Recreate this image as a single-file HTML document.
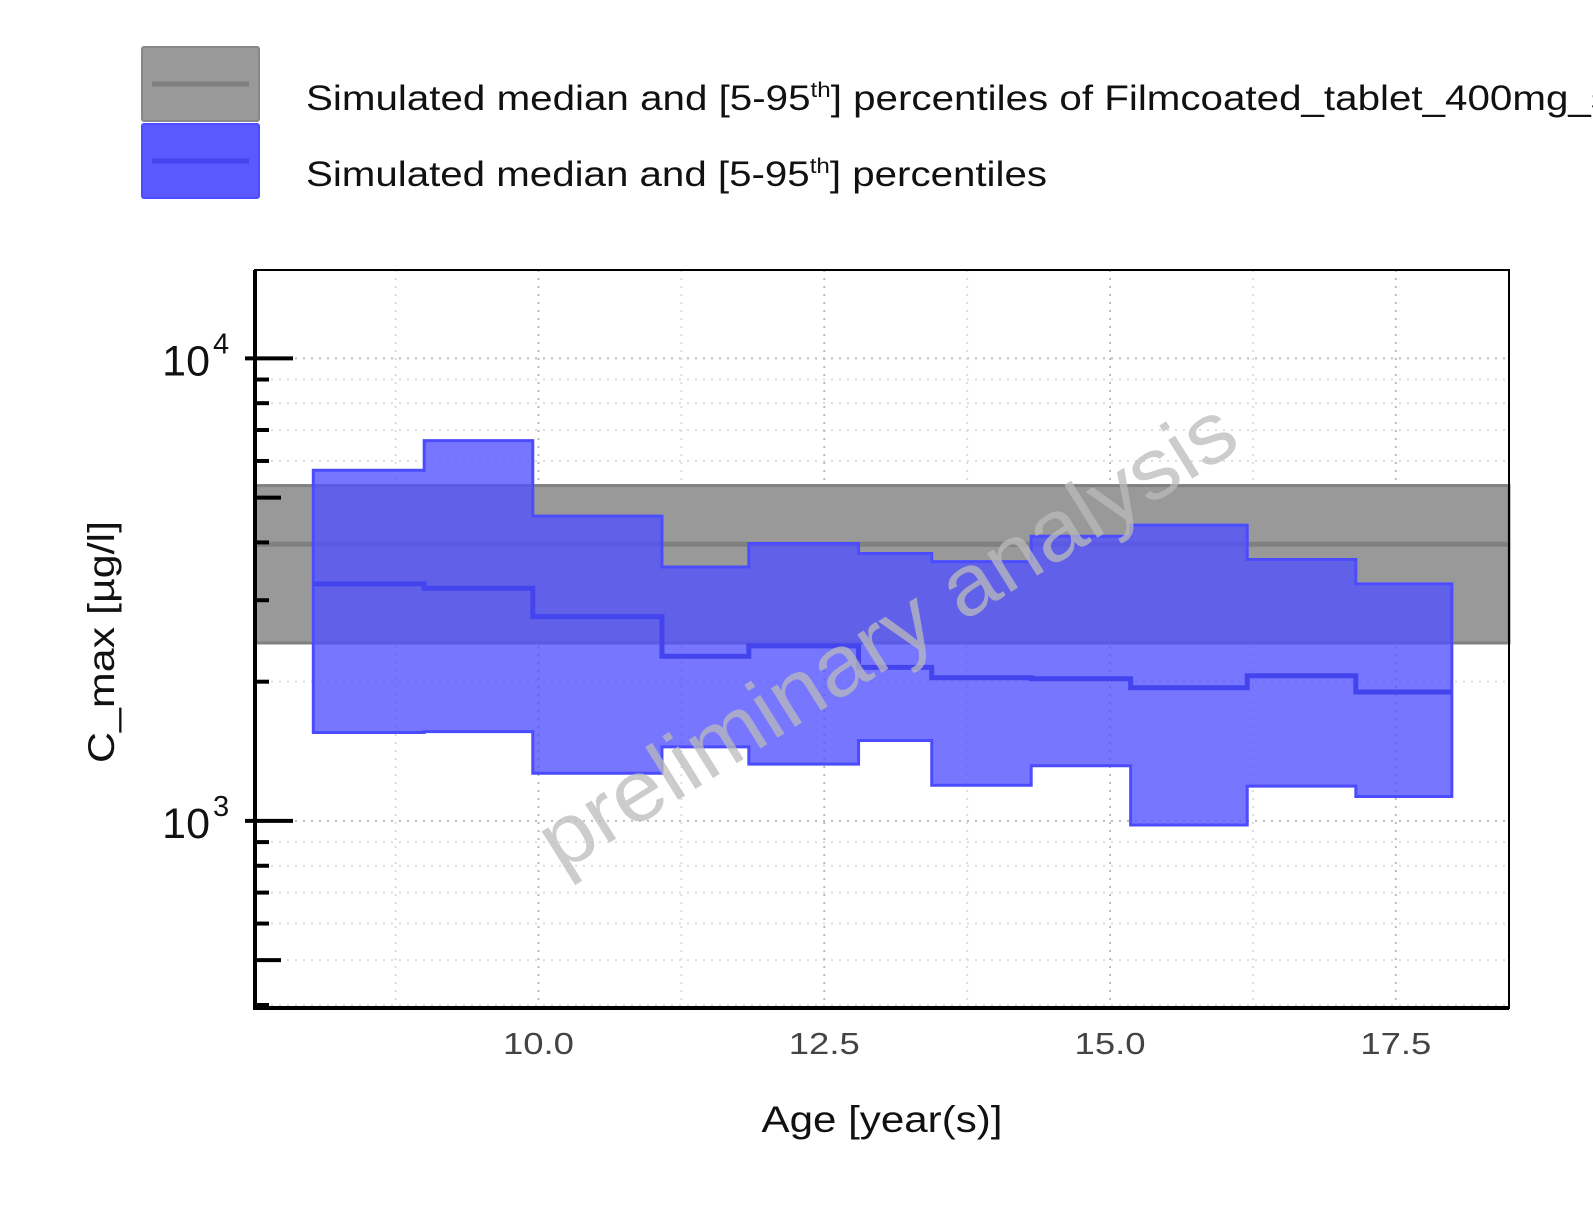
<!DOCTYPE html>
<html><head><meta charset="utf-8"><style>
html,body{margin:0;padding:0;background:#fff;}
svg{display:block;font-family:"Liberation Sans",sans-serif;}
</style></head><body>
<svg id="chart" width="1593" height="1226" viewBox="0 0 1593 1226" xmlns="http://www.w3.org/2000/svg">
<g>
  <g>
    <rect x="142" y="47" width="117" height="74" rx="2" fill="#999" stroke="#888" stroke-width="2"/>
    <line x1="152" y1="84" x2="249" y2="84" stroke="#808080" stroke-width="5"/>
    <text x="306" y="110" font-size="35" fill="#111" textLength="1305" lengthAdjust="spacingAndGlyphs">Simulated median and [5-95<tspan font-size="21" dy="-13">th</tspan><tspan dy="13">] percentiles of Filmcoated_tablet_400mg_s</tspan></text>
  </g>
  <g>
    <rect x="142" y="124" width="117" height="74" rx="2" fill="#5050ff" fill-opacity="0.95" stroke="#4c4cff" stroke-width="2"/>
    <line x1="152" y1="161" x2="249" y2="161" stroke="#4444ee" stroke-width="5"/>
    <text x="306" y="186" font-size="35" fill="#111" textLength="741" lengthAdjust="spacingAndGlyphs">Simulated median and [5-95<tspan font-size="21" dy="-13">th</tspan><tspan dy="13">] percentiles</tspan></text>
  </g>
</g>
<g id="plot"></g>
<text x="0" y="0" font-size="86" fill="#bbb" fill-opacity="0.75" text-anchor="middle" textLength="805" lengthAdjust="spacingAndGlyphs" transform="translate(902,660) rotate(-32)">preliminary analysis</text>
<text x="882" y="1132" font-size="37" text-anchor="middle" fill="#111" textLength="241" lengthAdjust="spacingAndGlyphs">Age [year(s)]</text>
<text x="0" y="0" font-size="37" text-anchor="middle" fill="#111" textLength="242" lengthAdjust="spacingAndGlyphs" transform="translate(114,642) rotate(-90)">C_max [µg/l]</text>
</svg>
<script>
const binEdges=[8.03,9.0,9.95,11.08,11.84,12.8,13.44,14.31,15.18,16.2,17.15,17.99];
const upper=[5730,6640,4560,3540,3980,3785,3635,4125,4360,3675,3255];
const median=[3255,3185,2765,2270,2390,2147,2040,2030,1940,2060,1900];
const lower=[1553,1560,1268,1446,1327,1492,1194,1316,980,1189,1129];
const refBand=[2425,3963,5309];
const xTicks=[10.0,12.5,15.0,17.5];
const xTickLabels=["10.0","12.5","15.0","17.5"];
const yMajor=[1000,10000];
const yMajorExp=["3","4"];

const L=255,R=1509,T=270,B=1008;
const xMin=7.52,xMax=18.49,yMinLog=2.5956,yMaxLog=4.191;
const X=v=>L+(v-xMin)/(xMax-xMin)*(R-L);
const Y=v=>B-(Math.log10(v)-yMinLog)/(yMaxLog-yMinLog)*(B-T);
const NS="http://www.w3.org/2000/svg";
const plot=document.getElementById('plot');
function mk(tag,attrs,parent){const e=document.createElementNS(NS,tag);for(const k in attrs)e.setAttribute(k,attrs[k]);(parent||plot).appendChild(e);return e;}

const grid=mk('g',{});


for(let d=2;d<=4;d++)for(let m=1;m<10;m++){const v=m*Math.pow(10,d);const y=Y(v);if(y<T||y>B)continue;
  const ln=mk('line',{x1:L,x2:R,y1:y,y2:y,stroke:m==1?'#bbb':'#ddd','stroke-width':2,'stroke-dasharray':'2,6'},grid);
  
  }
for(let v=8.75;v<xMax;v+=1.25){const x=X(v);const maj=Math.abs(v/2.5-Math.round(v/2.5))<1e-6;
  const ln=mk('line',{x1:x,x2:x,y1:T,y2:B,stroke:maj?'#bbb':'#ddd','stroke-width':2,'stroke-dasharray':'2,6'},grid);
  
  }

const band=mk('rect',{x:L,y:Y(refBand[2]),width:R-L,height:Y(refBand[0])-Y(refBand[2]),fill:'#999',stroke:'#808080','stroke-width':3});


const bandMed=mk('line',{x1:L,x2:R,y1:Y(refBand[1]),y2:Y(refBand[1]),stroke:'#808080','stroke-width':5});



function stepPts(vals){const p=[];for(let i=0;i<vals.length;i++){p.push([X(binEdges[i]),Y(vals[i])]);p.push([X(binEdges[i+1]),Y(vals[i])]);}return p;}
const up=stepPts(upper),lo=stepPts(lower).reverse();
const rib=mk('polygon',{points:up.concat(lo).map(p=>p.join(',')).join(' '),fill:'#5050ff','fill-opacity':0.78,stroke:'#4c4cff','stroke-width':3});


const med=mk('polyline',{points:stepPts(median).map(p=>p.join(',')).join(' '),fill:'none',stroke:'#4444ee','stroke-width':5});



const ax=mk('path',{d:`M${L},${T} L${L},${B} L${R},${B} L${R},${T} Z`,fill:'none',stroke:'#000','stroke-width':2});


const yax=mk('line',{x1:L,x2:L,y1:T,y2:B+2,stroke:'#000','stroke-width':4});


const xax=mk('line',{x1:L-2,x2:R,y1:B,y2:B,stroke:'#000','stroke-width':4});



for(let d=2;d<=4;d++)for(let m=1;m<10;m++){const v=m*Math.pow(10,d);const y=Y(v);if(y<T||y>B)continue;
  const len=m==1?38:(m==5?26:14);
  const t=mk('line',{x1:m==1?L-10:L,x2:L+len,y1:y,y2:y,stroke:'#000','stroke-width':4});
  
  }
yMajor.forEach((v,i)=>{const y=Y(v);
  const t=mk('text',{x:210,y:y+17,'font-size':43,'text-anchor':'end',fill:'#111'});
  t.textContent='10';
  
  
  const s=mk('text',{x:213,y:y-5,'font-size':29,fill:'#111'});
  s.textContent=yMajorExp[i];
  
  });

xTicks.forEach((v,i)=>{const x=X(v);
  const t=mk('text',{x:x,y:1054,'font-size':31,'text-anchor':'middle',fill:'#444',textLength:71,lengthAdjust:'spacingAndGlyphs'});
  t.textContent=xTickLabels[i];
  
  });
</script>
</body></html>
